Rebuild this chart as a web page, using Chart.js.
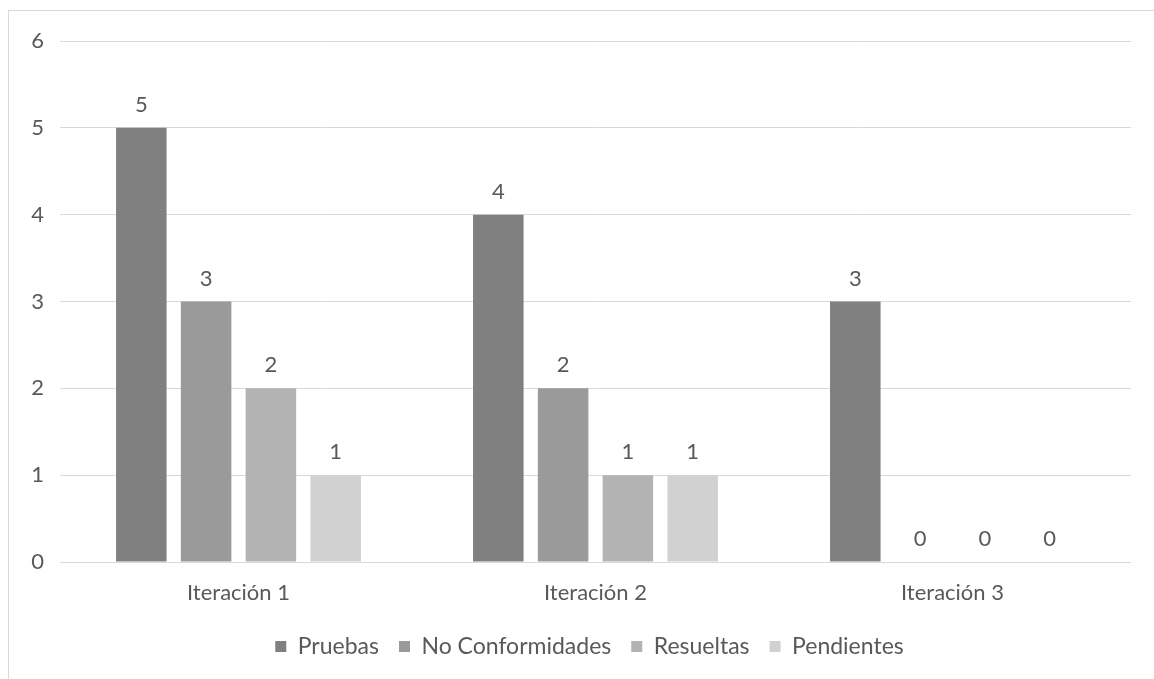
<!DOCTYPE html>
<html>
<head>
<meta charset="utf-8">
<script src="https://cdn.jsdelivr.net/npm/chart.js@4"></script>
<style>
  html, body { margin: 0; padding: 0; background: #fff; overflow: hidden; }
  #wrap { position: absolute; left: 0; top: 0; width: 1154px; height: 679px; }
</style>
</head>
<body>
<div id="wrap"><canvas id="myChart" width="1154" height="679"></canvas></div>
<script>
// chart data
const categories = ['Iteración 1', 'Iteración 2', 'Iteración 3'];
const seriesNames = ['Pruebas', 'No Conformidades', 'Resueltas', 'Pendientes'];
const pruebas = [5, 4, 3];
const noConformidades = [3, 2, 0];
const resueltas = [2, 1, 0];
const pendientes = [1, 1, 0];
const yTicks = [0, 1, 2, 3, 4, 5, 6];

const seriesValues = [pruebas, noConformidades, resueltas, pendientes];
const seriesColors = ['#808080', '#9a9a9a', '#b3b3b3', '#d1d1d1'];

const FONT = 'Lato';
const TEXT = '#595959';

// outer frame of the chart (right & bottom edges fall outside the window)
const framePlugin = {
  id: 'frame',
  beforeDraw(chart) {
    const ctx = chart.ctx;
    ctx.save();
    ctx.strokeStyle = '#d9d9d9';
    ctx.lineWidth = 1;
    ctx.strokeRect(8.5, 10.5, 2000, 2000);
    ctx.restore();
  }
};

// nudge the legend a bit to the right, as in the original
const legendShift = {
  id: 'legendShift',
  afterLayout(chart) {
    if (chart.legend) {
      chart.legend.left += 24;
      chart.legend.right += 24;
    }
  }
};

// value labels above each bar
const valueLabels = {
  id: 'valueLabels',
  afterDatasetsDraw(chart) {
    const ctx = chart.ctx;
    ctx.save();
    ctx.font = '22px ' + FONT;
    ctx.fillStyle = TEXT;
    ctx.textAlign = 'center';
    ctx.textBaseline = 'middle';
    chart.data.datasets.forEach((ds, i) => {
      chart.getDatasetMeta(i).data.forEach((bar, j) => {
        ctx.fillText(String(ds.data[j]), bar.x, bar.y - 23);
      });
    });
    ctx.restore();
  }
};

const ctx = document.getElementById('myChart');

new Chart(ctx, {
  type: 'bar',
  data: {
    labels: categories,
    datasets: seriesNames.map((name, i) => ({
      label: name,
      data: seriesValues[i],
      backgroundColor: seriesColors[i],
      borderWidth: 0,
      categoryPercentage: 0.726,
      barPercentage: 0.78
    }))
  },
  options: {
    responsive: false,
    animation: false,
    events: [],
    layout: { padding: { left: 0, top: 41, right: 23, bottom: 11 } },
    scales: {
      x: {
        grid: { display: false, drawTicks: false },
        border: { display: false },
        ticks: { color: TEXT, font: { family: FONT, size: 22 }, padding: 18 },
        afterFit(scale) { scale.height = 53; }
      },
      y: {
        min: 0,
        max: 6,
        afterBuildTicks(scale) { scale.ticks = yTicks.map(v => ({ value: v })); },
        grid: { color: '#d9d9d9', lineWidth: 1, drawTicks: false },
        border: { display: false },
        ticks: { color: TEXT, font: { family: FONT, size: 22 }, padding: 16 },
        afterFit(scale) { scale.width = 60; }
      }
    },
    plugins: {
      legend: {
        display: true,
        position: 'bottom',
        labels: {
          color: TEXT,
          font: { family: FONT, size: 23 },
          boxWidth: 11,
          boxHeight: 11,
          padding: 20
        }
      },
      tooltip: { enabled: false }
    }
  },
  plugins: [framePlugin, legendShift, valueLabels]
});
</script>
</body>
</html>
